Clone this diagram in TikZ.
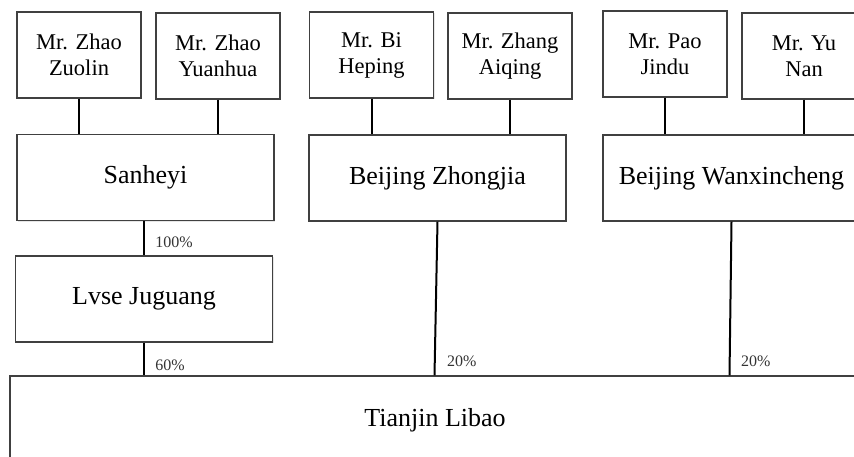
\documentclass[tikz,border=0pt]{standalone}
\usepackage{fontspec}
\setmainfont{Liberation Serif}
\usetikzlibrary{shadows}
\tikzset{
  box/.style={draw=black!75, line width=1.2pt, fill=white, inner sep=0pt, align=center,
    drop shadow={opacity=0.2, shadow xshift=1pt, shadow yshift=-1pt}},
  person/.style={box, minimum width=124pt, minimum height=86pt, font=\fontsize{22.5}{26}\selectfont},
  firm/.style={box, minimum width=257pt, minimum height=86pt, font=\fontsize{26}{30}\selectfont},
  link/.style={line width=2pt, black},
  pct/.style={anchor=west, font=\fontsize{16}{18}\selectfont, text=black!80}
}
\begin{document}
\begin{tikzpicture}[x=1pt, y=-1pt]
\useasboundingbox (0,0) rectangle (854,456);
\clip (0,0) rectangle (854,456);
% owners
\node[person] (zuolin) at (79,55) {Mr. Zhao\\Zuolin};
\node[person] (yuanhua) at (218,56) {Mr. Zhao\\Yuanhua};
\node[person] (bi) at (371.5,55) {Mr. Bi\\Heping};
\node[person] (zhang) at (510,56) {Mr. Zhang\\Aiqing};
\node[person] (pao) at (665,54) {Mr. Pao\\Jindu};
\node[person] (yu) at (804,56) {Mr. Yu\\Nan};
% companies
\node[firm] (sanheyi) at (145.5,177.5) {Sanheyi};
\node[firm] (zhongjia) at (437.5,178) {Beijing Zhongjia};
\node[firm] (wanxin) at (731.5,178) {Beijing Wanxincheng};
\node[firm] (lvse) at (144,299) {Lvse Juguang};
\node[firm, minimum width=850pt, minimum height=88pt] (tianjin) at (435,420) {Tianjin Libao};
% links
\draw[link] (zuolin.south) -- (zuolin.south |- sanheyi.north);
\draw[link] (yuanhua.south) -- (yuanhua.south |- sanheyi.north);
\draw[link] (bi.south) -- (bi.south |- zhongjia.north);
\draw[link] (zhang.south) -- (zhang.south |- zhongjia.north);
\draw[link] (pao.south) -- (pao.south |- wanxin.north);
\draw[link] (yu.south) -- (yu.south |- wanxin.north);
\draw[link] ([xshift=-1.5pt]sanheyi.south) -- (lvse.north) node[pct, pos=0.62, xshift=7pt] {100\%};
\draw[link] (lvse.south) -- (lvse.south |- tianjin.north) node[pct, pos=0.68, xshift=7pt] {60\%};
\draw[link] (zhongjia.south) -- ([xshift=-3pt]zhongjia.south |- tianjin.north) node[pct, pos=0.91, xshift=8pt] {20\%};
\draw[link] (wanxin.south) -- ([xshift=-2pt]wanxin.south |- tianjin.north) node[pct, pos=0.91, xshift=7pt] {20\%};
\end{tikzpicture}
\end{document}
